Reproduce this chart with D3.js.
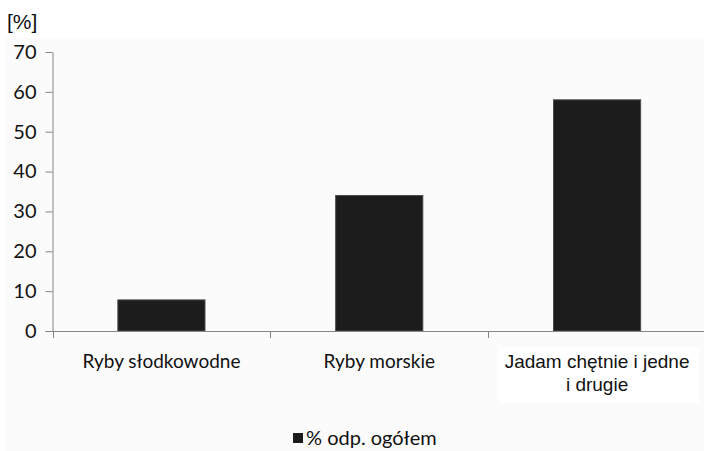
<!DOCTYPE html>
<html>
<head>
<meta charset="utf-8">
<script src="https://cdn.jsdelivr.net/npm/d3@7/dist/d3.min.js"></script>
<style>
  html, body { margin: 0; padding: 0; background: #ffffff; }
  svg { display: block; }
</style>
</head>
<body>
<svg id="chart" width="704" height="451"></svg>
<script>
// Fish preference survey: share of respondents (%)
const categories = ["Ryby słodkowodne", "Ryby morskie", "Jadam chętnie i jedne i drugie"];
const values = [7.8, 34, 58];
const yTicks = [0, 10, 20, 30, 40, 50, 60, 70];
const seriesName = "% odp. ogółem";
const unitLabel = "[%]";

const svg = d3.select("#chart");
const W = 704, H = 451;
const plot = { left: 52.5, right: 706, top: 52, bottom: 331 };

// chart area background
svg.append("rect").attr("x", 5).attr("y", 38).attr("width", W - 5).attr("height", H - 38)
  .attr("fill", "#fbfbfb");

const x = d3.scaleBand().domain(categories).range([plot.left, plot.right]).padding(0);
const y = d3.scaleLinear().domain([0, 70]).range([plot.bottom, plot.top]);

// bars
const barW = x.bandwidth() * 0.4;
svg.append("g").selectAll("rect").data(categories).join("rect")
  .attr("x", (d) => x(d) + (x.bandwidth() - barW) / 2)
  .attr("y", (d, i) => y(values[i]))
  .attr("width", barW)
  .attr("height", (d, i) => y(0) - y(values[i]))
  .attr("fill", "#1c1c1c")
  .attr("stroke", "#4a4a4a")
  .attr("stroke-width", 1);

// y axis
const yAxis = d3.axisLeft(y).tickValues(yTicks).tickSize(7).tickPadding(9).tickSizeOuter(0);
const gy = svg.append("g").attr("transform", `translate(${plot.left},0)`).call(yAxis);
gy.select(".domain").attr("stroke", "#868686");
gy.selectAll(".tick line").attr("stroke", "#868686");
gy.selectAll(".tick text")
  .attr("font-family", "Lato, 'Open Sans', sans-serif")
  .attr("font-size", 20).attr("fill", "#111");

// x axis baseline with category separators
svg.append("line").attr("x1", plot.left - 7).attr("x2", plot.right)
  .attr("y1", plot.bottom + 0.5).attr("y2", plot.bottom + 0.5)
  .attr("stroke", "#868686");
const edges = categories.map((d) => x(d)).concat([plot.right]);
svg.append("g").selectAll("line").data(edges).join("line")
  .attr("x1", (d) => Math.round(d) + 0.5).attr("x2", (d) => Math.round(d) + 0.5)
  .attr("y1", plot.bottom).attr("y2", plot.bottom + 7)
  .attr("stroke", "#868686");

// category labels
const labelLines = [["Ryby słodkowodne"], ["Ryby morskie"], ["Jadam chętnie i jedne", "i drugie"]];
categories.forEach((c, i) => {
  const cx = x(c) + x.bandwidth() / 2;
  if (i === 2) {
    svg.append("rect").attr("x", x(c) + 10).attr("y", 347).attr("width", 201).attr("height", 56)
      .attr("fill", "#ffffff");
  }
  const t = svg.append("text").attr("x", cx).attr("y", 368).attr("text-anchor", "middle")
    .attr("font-family", i === 2 ? "'Liberation Sans', Arial, sans-serif" : "Lato, 'Open Sans', sans-serif")
    .attr("font-size", i === 2 ? 19 : 19).attr("fill", "#111");
  labelLines[i].forEach((ln, k) => {
    t.append("tspan").attr("x", cx).attr("dy", k === 0 ? 0 : 23).text(ln);
  });
});

// unit label
svg.append("text").attr("x", 7).attr("y", 29).text(unitLabel)
  .attr("font-family", "'Liberation Sans', Arial, sans-serif").attr("font-size", 21).attr("fill", "#111");

// legend
const lg = svg.append("g").attr("transform", "translate(293,433)");
lg.append("rect").attr("width", 10).attr("height", 10).attr("fill", "#1c1c1c");
lg.append("text").attr("x", 13).attr("y", 12).text(seriesName)
  .attr("font-family", "Lato, 'Open Sans', sans-serif").attr("font-size", 20).attr("fill", "#111");
</script>
</body>
</html>
